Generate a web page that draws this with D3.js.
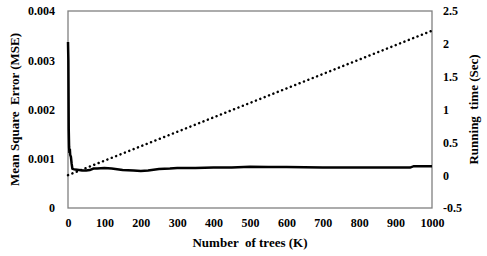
<!DOCTYPE html>
<html lang="en">
<head>
<meta charset="UTF-8">
<title>MSE and running time vs number of trees</title>
<script src="https://d3js.org/d3.v7.min.js"></script>
<style>
  body { margin: 0; background: #fff; }
  svg text { font-family: "Times New Roman", "Liberation Serif", serif; font-weight: bold; fill: #000; white-space: pre; }
</style>
</head>
<body>
<div id="chart"></div>
<script>
// MSE curve (left axis)
const mseTrees  = [0, 1, 2, 3, 4, 5, 6, 8, 10, 12, 15, 20, 30, 40, 50, 60, 70, 80, 100, 120, 150, 180, 200, 220, 250, 280, 300, 350, 400, 450, 500, 550, 600, 700, 800, 900, 940, 950, 1000];
const mseValues = [0.00337, 0.0030, 0.0016, 0.00124, 0.00112, 0.0012, 0.00108, 0.00104, 0.0009, 0.0008, 0.00079, 0.00078, 0.00077, 0.00076, 0.00076, 0.00077, 0.0008, 0.0008, 0.00081, 0.0008, 0.00077, 0.00076, 0.00075, 0.00076, 0.00079, 0.0008, 0.00081, 0.00081, 0.00082, 0.00082, 0.00084, 0.00083, 0.00083, 0.00082, 0.00082, 0.00082, 0.00082, 0.00085, 0.00085];

// running time (right axis)
const timeTrees  = [0, 100, 200, 300, 400, 500, 600, 700, 800, 900, 1000];
const timeValues = [0, 0.22, 0.44, 0.66, 0.88, 1.1, 1.32, 1.54, 1.76, 1.98, 2.2];

const xTicks = [0, 100, 200, 300, 400, 500, 600, 700, 800, 900, 1000];
const yLeftTicks = [0, 0.001, 0.002, 0.003, 0.004];
const yRightTicks = [-0.5, 0, 0.5, 1, 1.5, 2, 2.5];

const width = 487, height = 256;
const margin = { top: 11, right: 55, bottom: 48, left: 68 };
const serif = '"Times New Roman", "Liberation Serif", serif';

const svg = d3.select("#chart").append("svg")
    .attr("width", width)
    .attr("height", height);

const x = d3.scaleLinear().domain([0, 1000]).range([margin.left, width - margin.right]);
const yL = d3.scaleLinear().domain([0, 0.004]).range([height - margin.bottom, margin.top]);
const yR = d3.scaleLinear().domain([-0.5, 2.5]).range([height - margin.bottom, margin.top]);

// plot frame
svg.append("rect")
    .attr("x", margin.left)
    .attr("y", margin.top)
    .attr("width", width - margin.right - margin.left)
    .attr("height", height - margin.bottom - margin.top)
    .attr("fill", "none")
    .attr("stroke", "#808080")
    .attr("stroke-width", 1.3);

function styleAxis(g) {
    g.select(".domain").remove();
    g.attr("font-family", serif).attr("font-size", 12).attr("font-weight", "bold");
    g.selectAll("text").style("font-family", serif).style("font-size", "12px");
}

// left axis
svg.append("g")
    .attr("transform", `translate(${margin.left},0)`)
    .call(d3.axisLeft(yL).tickValues(yLeftTicks).tickSize(0).tickPadding(13)
        .tickFormat(d => d === 0 ? "0" : d3.format(".3f")(d)))
    .call(styleAxis);

// right axis
svg.append("g")
    .attr("transform", `translate(${width - margin.right},0)`)
    .call(d3.axisRight(yR).tickValues(yRightTicks).tickSize(0).tickPadding(11)
        .tickFormat(d => String(d)))
    .call(styleAxis);

// bottom axis
svg.append("g")
    .attr("transform", `translate(0,${height - margin.bottom})`)
    .call(d3.axisBottom(x).tickValues(xTicks).tickSize(0).tickPadding(10)
        .tickFormat(d3.format("d")))
    .call(styleAxis);

// running time, dotted
const timeLine = d3.line().x((d, i) => x(timeTrees[i])).y(d => yR(d));
svg.append("path")
    .datum(timeValues)
    .attr("d", timeLine)
    .attr("fill", "none")
    .attr("stroke", "#000")
    .attr("stroke-width", 2.5)
    .attr("stroke-linecap", "round")
    .attr("stroke-dasharray", "0.1 4.6");

// MSE, solid
const mseLine = d3.line().x((d, i) => x(mseTrees[i])).y(d => yL(d));
svg.append("path")
    .datum(mseValues)
    .attr("d", mseLine)
    .attr("fill", "none")
    .attr("stroke", "#000")
    .attr("stroke-width", 2.5);

// axis titles
const midY = (margin.top + height - margin.bottom) / 2;
svg.append("text")
    .attr("transform", `translate(19,${midY}) rotate(-90)`)
    .attr("text-anchor", "middle")
    .style("font-family", serif)
    .style("font-size", "13px")
    .text("Mean Square  Error (MSE)");

svg.append("text")
    .attr("transform", `translate(478,${midY}) rotate(-90)`)
    .attr("text-anchor", "middle")
    .style("font-family", serif)
    .style("font-size", "13px")
    .text("Running  time (Sec)");

svg.append("text")
    .attr("x", 250)
    .attr("y", 247)
    .attr("text-anchor", "middle")
    .style("font-family", serif)
    .style("font-size", "13px")
    .text("Number  of trees (K)");
</script>
</body>
</html>
